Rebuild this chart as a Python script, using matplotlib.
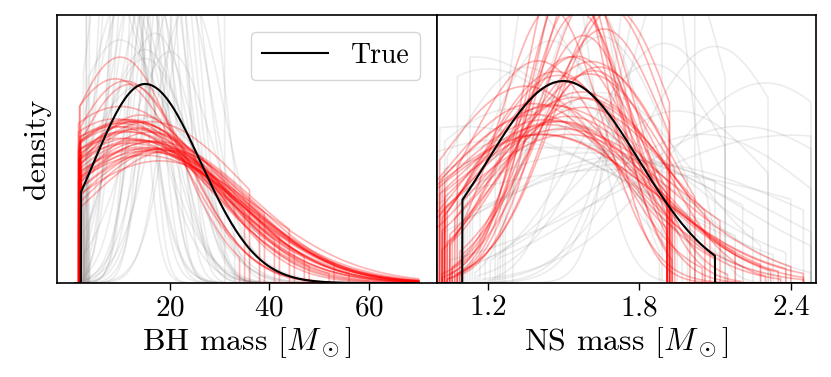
import numpy as np
import matplotlib
matplotlib.use('Agg')
import matplotlib.pyplot as plt

plt.rcParams['font.family'] = 'serif'
plt.rcParams['font.serif'] = ['cmr10']
plt.rcParams['mathtext.fontset'] = 'cm'
plt.rcParams['axes.formatter.use_mathtext'] = True
plt.rcParams['axes.unicode_minus'] = False

# true populations (truncated gaussians)
bh_true = dict(mu=15.0, sd_lo=10.3, sd_hi=11.2, lo=2.1, hi=70.0)
ns_true = dict(mu=1.5, sd_lo=0.3, sd_hi=0.3, lo=1.1, hi=2.1)

# BH posterior draws (red)
bh_red_mu = [13, 10, 16, 12, 11, 9, 18, 14, 10, 17, 13, 9, 15, 12, 19, 14, 10, 16, 12, 11,
             17, 12, 14, 9, 15, 13, 20, 11, 16, 14, 12, 10, 18, 13, 15, 11, 17, 14, 12, 16]
bh_red_sd = [18.5, 19.2, 17.1, 20.0, 12.5, 18.0, 17.5, 19.8, 11.5, 18.6, 16.4, 19.0, 20.3, 17.8,
             16.9, 18.2, 20.5, 19.1, 12.0, 16.7, 19.4, 18.8, 16.2, 13.4, 19.6, 20.8, 17.0, 18.3,
             16.6, 19.3, 17.9, 18.7, 20.1, 15.5, 17.7, 19.9, 18.1, 14.3, 20.6, 18.4]
bh_red_lo = [1.8, 2.0, 1.7, 1.9, 2.1, 1.6, 1.8, 2.0, 1.9, 1.7, 2.2, 1.8, 1.6, 2.0, 1.9, 1.7, 2.1,
             1.8, 1.6, 2.0, 1.9, 1.7, 2.2, 1.8, 2.0, 1.6, 1.9, 1.7, 2.1, 1.8, 2.0, 1.6, 1.9, 1.7,
             2.2, 1.8, 2.0, 1.9, 1.7, 2.1]
bh_red_hi = [70, 45, 70, 38, 70, 52, 70, 70, 34, 70, 48, 70, 70, 41, 70, 56, 70, 36, 70, 70,
             44, 70, 70, 50, 70, 39, 70, 70, 47, 70, 70, 35, 70, 60, 70, 42, 70, 70, 53, 70]

# BH prior draws (grey)
bh_gray_mu = [14, 18, 10, 22, 16, 12, 20, 8, 15, 25, 11, 17, 13, 19, 6, 21, 14, 9, 16, 24,
              12, 18, 15, 10, 20, 13, 17, 28, 11, 16, 19, 14, 7, 22, 15]
bh_gray_sd = [4.0, 5.5, 3.5, 6.5, 3.2, 7.5, 4.8, 6.0, 9.0, 5.0, 4.2, 8.0, 3.8, 5.2, 10.0, 4.5,
              12.0, 5.8, 6.8, 7.0, 3.0, 4.4, 5.6, 11.0, 8.5, 4.6, 3.6, 6.2, 7.8, 14.0, 3.4, 6.6,
              8.8, 5.4, 9.5]
bh_gray_lo = [2.5, 3.1, 2.8, 3.6, 2.4, 3.3, 2.9, 3.8, 2.6, 3.0, 3.5, 2.7, 3.9, 2.5, 3.2, 2.8,
              3.4, 2.6, 3.7, 3.0, 2.4, 3.3, 2.9, 3.6, 2.7, 3.1, 2.5, 3.8, 3.0, 2.6, 3.4, 2.8,
              3.2, 3.5, 2.7]
bh_gray_hi = [70, 70, 70, 36, 70, 70, 70, 70, 70, 33, 70, 70, 70, 70, 70, 70, 70, 70, 70, 38,
              70, 70, 70, 70, 70, 70, 70, 31, 70, 70, 70, 70, 70, 70, 70]

# NS posterior draws (red)
ns_red_mu = [1.50, 1.45, 1.55, 1.40, 1.52, 1.35, 1.58, 1.48, 1.62, 1.53, 1.42, 1.57, 1.47, 1.60,
             1.44, 1.55, 1.38, 1.60, 1.51, 1.66, 1.47, 1.56, 1.41, 1.59, 1.53, 1.49, 1.70, 1.43,
             1.57, 1.52, 1.64, 1.46, 1.55, 1.39, 1.61, 1.50, 1.54, 1.45, 1.68, 1.58]
ns_red_sd = [0.32, 0.20, 0.38, 0.28, 0.42, 0.35, 0.22, 0.30, 0.26, 0.18, 0.44, 0.34, 0.29, 0.19,
             0.40, 0.27, 0.36, 0.31, 0.16, 0.25, 0.39, 0.21, 0.45, 0.33, 0.26, 0.37, 0.24, 0.41,
             0.18, 0.35, 0.28, 0.43, 0.19, 0.38, 0.30, 0.46, 0.17, 0.33, 0.23, 0.36]
ns_red_lo = [1.02, 1.05, 1.00, 1.08, 1.03, 1.01, 1.06, 1.04, 1.10, 1.02, 1.00, 1.07, 1.03, 1.09,
             1.01, 1.05, 1.00, 1.04, 1.08, 1.02, 1.03, 1.06, 1.00, 1.05, 1.02, 1.01, 1.07, 1.03,
             1.04, 1.00, 1.09, 1.02, 1.05, 1.01, 1.06, 1.03, 1.04, 1.00, 1.08, 1.02]
ns_red_hi = [1.91, 2.25, 1.92, 2.05, 2.40, 1.91, 2.15, 1.93, 2.30, 1.91, 2.45, 2.00, 1.92, 2.20,
             2.35, 1.91, 2.10, 1.94, 2.42, 1.92, 2.28, 1.91, 2.38, 2.08, 1.93, 2.45, 1.92, 2.18,
             1.91, 2.32, 2.02, 1.92, 2.24, 2.45, 1.91, 2.12, 1.93, 2.36, 1.92, 2.06]

# NS prior draws (grey)
ns_gray_mu = [1.55, 1.95, 1.30, 1.70, 2.10, 1.45, 1.60, 1.85, 1.20, 2.30, 1.50, 1.75, 1.40, 2.00,
              1.65, 1.10, 1.90, 1.55, 2.20, 1.35, 1.80, 1.60, 1.25, 2.05, 1.50, 1.70, 1.45, 1.95,
              1.15, 1.65, 2.40, 1.55, 1.85, 1.30, 1.75]
ns_gray_sd = [0.15, 0.20, 0.35, 0.50, 0.30, 0.25, 0.60, 0.12, 0.45, 0.40, 0.80, 0.18, 0.55, 0.22,
              0.35, 0.70, 0.28, 0.40, 0.50, 0.30, 0.65, 0.20, 0.60, 0.45, 0.32, 0.90, 0.14, 0.38,
              0.50, 0.26, 0.70, 0.48, 0.30, 0.42, 0.55]
ns_gray_lo = [1.15, 1.05, 1.25, 1.02, 1.20, 1.10, 1.00, 1.28, 1.08, 1.18, 1.03, 1.22, 1.12, 1.06,
              1.30, 1.01, 1.16, 1.09, 1.24, 1.04, 1.14, 1.27, 1.00, 1.19, 1.07, 1.11, 1.23, 1.02,
              1.13, 1.26, 1.05, 1.17, 1.21, 1.03, 1.10]
ns_gray_hi = [1.88, 2.14, 2.02, 2.48, 2.31, 1.91, 2.21, 2.45, 1.95, 2.48, 2.10, 1.89, 2.38, 2.02,
              2.28, 2.18, 2.14, 2.48, 2.48, 1.97, 2.45, 2.06, 2.33, 2.48, 2.21, 2.40, 1.92, 2.31,
              2.02, 1.99, 2.48, 2.25, 2.14, 2.36, 2.48]


def trunc_pdf(x, mu, sd_lo, sd_hi, lo, hi):
    sd = np.where(x < mu, sd_lo, sd_hi)
    y = np.exp(-0.5 * ((x - mu) / sd) ** 2)
    y[(x < lo) | (x > hi)] = 0.0
    return y / np.trapezoid(y, x)


x_bh = np.linspace(1.0, 70.0, 4000)
x_ns = np.linspace(1.0, 2.5, 4000)

fig = plt.figure(figsize=(8.31, 3.77), dpi=100)
ax1 = fig.add_axes([0.0686, 0.249, 0.4573, 0.711])
ax2 = fig.add_axes([0.5259, 0.249, 0.4561, 0.711])

panels = [
    (ax1, x_bh, bh_true, (bh_gray_mu, bh_gray_sd, bh_gray_lo, bh_gray_hi),
     (bh_red_mu, bh_red_sd, bh_red_lo, bh_red_hi), 0.743),
    (ax2, x_ns, ns_true, (ns_gray_mu, ns_gray_sd, ns_gray_lo, ns_gray_hi),
     (ns_red_mu, ns_red_sd, ns_red_lo, ns_red_hi), 0.754),
]

for ax, x, true, gray, red, frac in panels:
    for mu, sd, lo, hi in zip(*gray):
        ax.plot(x, trunc_pdf(x, mu, sd, sd, lo, hi), color='gray', alpha=0.15, lw=1.2)
    for mu, sd, lo, hi in zip(*red):
        ax.plot(x, trunc_pdf(x, mu, sd, sd, lo, hi), color='red', alpha=0.3, lw=1.2)
    y_true = trunc_pdf(x, true['mu'], true['sd_lo'], true['sd_hi'], true['lo'], true['hi'])
    ax.plot(x, y_true, color='black', lw=1.5, label='True')
    ax.set_ylim(0, y_true.max() / frac)
    ax.set_yticks([])
    ax.tick_params(axis='x', labelsize=21, length=5, width=1)
    for s in ax.spines.values():
        s.set_linewidth(1.2)

ax1.set_xlim(-2.7, 73.7)
ax1.set_xticks([20, 40, 60])
ax1.set_xlabel(r'BH mass $[M_\odot]$', fontsize=23, labelpad=3)
ax1.set_ylabel('density', fontsize=23)
ax1.legend(loc='upper right', fontsize=20, handlelength=2.4, borderaxespad=0.6)

ax2.set_xlim(1.0, 2.5)
ax2.set_xticks([1.2, 1.8, 2.4])
ax2.set_xlabel(r'NS mass $[M_\odot]$', fontsize=23, labelpad=3)

fig.savefig('out.png', dpi=100)
